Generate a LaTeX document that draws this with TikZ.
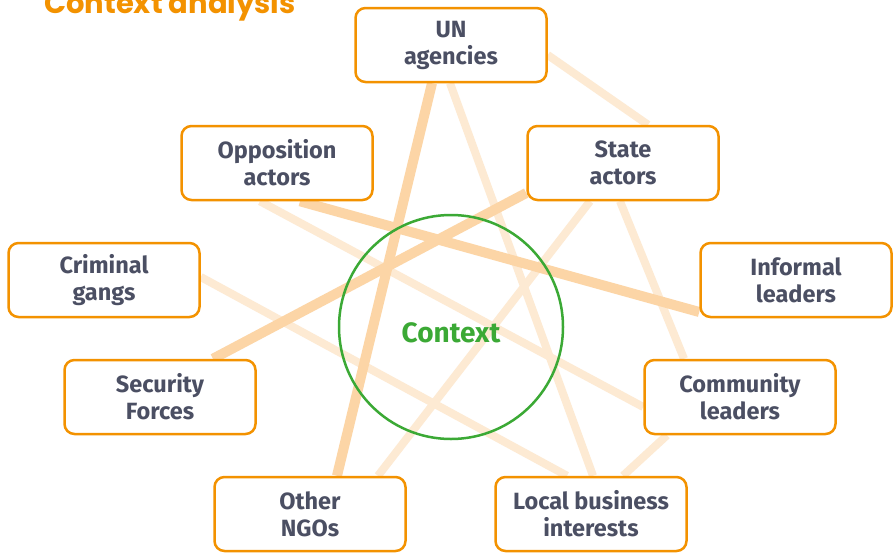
\documentclass[tikz,border=0pt]{standalone}
\usepackage{fontspec}
\setmainfont{Fira Sans}
\newfontfamily\titlefont{Poppins}
\usepackage{tikz}
\usetikzlibrary{calc}
\usetikzlibrary{positioning}
\usetikzlibrary{backgrounds}
\definecolor{boxorange}{HTML}{F39200}
\definecolor{labelgray}{HTML}{4B4F63}
\definecolor{ctxgreen}{HTML}{3BA935}
\definecolor{linkdark}{HTML}{FCD5A6}
\definecolor{linklight}{HTML}{FDEAD3}
\tikzstyle{actor} = [rectangle, draw=boxorange, line width=2.5pt, rounded corners=10pt, fill=white, minimum width=191pt, minimum height=74pt, align=center, text=labelgray, font=\bfseries\fontsize{23.5}{27}\selectfont]
\tikzstyle{strong} = [-, line width=10pt, draw=linkdark]
\tikzstyle{weak} = [-, line width=8pt, draw=linklight]

\begin{document}
\begin{tikzpicture}[x=1pt, y=-1pt]
\useasboundingbox (0,0) rectangle (894,552);
\node [anchor=base west, inner sep=0pt, text=boxorange, font=\titlefont\bfseries\fontsize{29}{29}\selectfont] (title) at (44,13) {Context analysis};
\node [actor] (un) at (451,45) {UN\\agencies};
\node [actor] (opp) at (277,163) {Opposition\\actors};
\node [actor] (state) at (623,163) {State\\actors};
\node [actor] (gangs) at (104,280) {Criminal\\gangs};
\node [actor] (informal) at (796,280) {Informal\\leaders};
\node [actor] (security) at (160,397) {Security\\Forces};
\node [actor] (community) at (740,397) {Community\\leaders};
\node [actor] (ngos) at (310,514) {Other\\NGOs};
\node [actor] (business) at (591,514) {Local business\\interests};
\node [text=ctxgreen, font=\bfseries\fontsize{28}{28}\selectfont] (ctxlabel) at (451,333) {Context};
\begin{scope}[on background layer]
\fill [white] (0,0) rectangle (894,552);
\draw [weak] ([xshift=-1pt]un.south) to ([xshift=2pt]business.north);
\draw [weak] ($(un.east)+(0,10)$) to ([xshift=25pt]state.north);
\draw [weak] ([xshift=-17pt]opp.south) to ($(community.west)+(0,10)$);
\draw [weak] ([xshift=-33pt]state.south) to ([xshift=68pt]ngos.north);
\draw [weak] ([xshift=-3pt]state.south) to ([xshift=-56pt]community.north);
\draw [weak] ($(gangs.east)+(0,-3)$) to ([xshift=-24pt]business.north);
\draw [weak] ([xshift=-73pt]community.south) to ([xshift=32pt]business.north);
\draw [strong] ([xshift=-19pt]un.south) to ([xshift=27pt]ngos.north);
\draw [strong] ([xshift=23pt]opp.south) to ($(informal.west)+(0,32)$);
\draw [strong] ($(state.west)+(0,30)$) to ([xshift=53pt]security.north);
\node [circle, draw=ctxgreen, line width=2.5pt, minimum size=224pt] (ctx) at (451,327) {};
\end{scope}
\end{tikzpicture}
\end{document}
